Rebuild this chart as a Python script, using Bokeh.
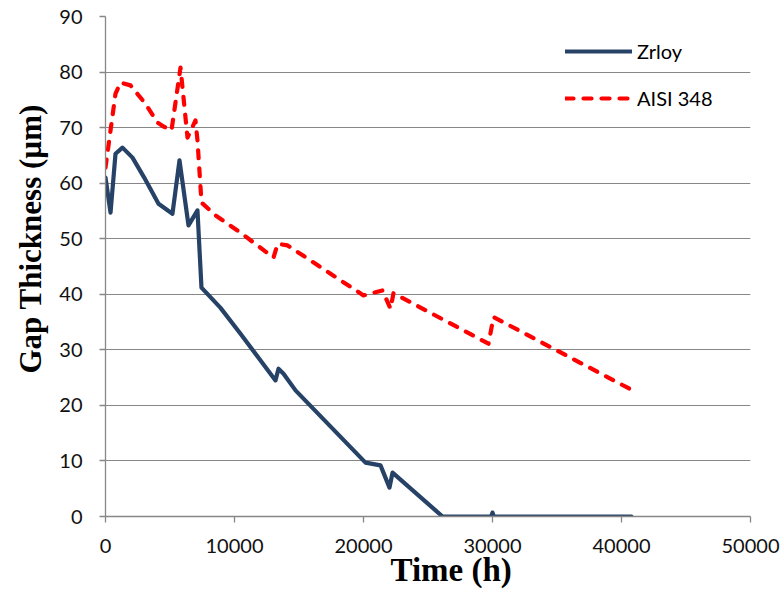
from bokeh.plotting import figure
from bokeh.models import Legend, LegendItem, FixedTicker, Range1d, Title
from bokeh.embed import file_html
from bokeh.resources import INLINE

# Data
zr_time = [0, 390, 775, 1318, 2093, 3000, 4109, 5190, 5736, 6434, 7130, 7440, 8900,
           10465, 13178, 13411, 13800, 14730, 20155, 21318, 22015, 22250, 26124,
           29900, 30000, 30100, 40775]
zr_gap = [61, 54.7, 65.3, 66.4, 64.6, 61.0, 56.3, 54.5, 64.1, 52.4, 55.1, 41.2, 37.6,
          32.9, 24.5, 26.6, 25.7, 22.7, 9.7, 9.2, 5.2, 7.9, 0,
          0, 0.7, 0, 0]

aisi_time = [0, 390, 775, 1163, 1938, 3100, 4030, 4496, 5116, 5814, 5970, 6357, 6977,
             7130, 7442, 8527, 10465, 13023, 13350, 14109, 20000, 21473, 22093, 22325,
             29690, 30078, 40700]
aisi_gap = [62.8, 69.5, 76.1, 78.1, 77.6, 74.3, 70.9, 70.2, 69.5, 80.8, 77.2, 68.2, 71.3,
            67.7, 56.5, 54.2, 51.1, 46.6, 49.1, 48.8, 39.8, 40.7, 37.4, 40.2,
            31.1, 35.9, 22.9]

x_ticks = [0, 10000, 20000, 30000, 40000, 50000]
y_ticks = [0, 10, 20, 30, 40, 50, 60, 70, 80, 90]
x_title = "Time (h)"
y_title = "Gap Thickness (µm)"

GRAY = "#878787"
NAVY = "#264266"
RED = "#FF0000"
TICK_FONT = "Lato"

p = figure(width=782, height=592, output_backend="svg", toolbar_location=None,
           x_range=Range1d(0, 50000), y_range=Range1d(0, 90),
           min_border_left=105, min_border_right=32, min_border_top=16, min_border_bottom=76)
p.outline_line_color = None
p.background_fill_color = "white"

p.xgrid.grid_line_color = None
p.ygrid.grid_line_color = GRAY
p.ygrid.grid_line_width = 1
p.ygrid.ticker = FixedTicker(ticks=y_ticks)

for ax in (p.xaxis[0], p.yaxis[0]):
    ax.axis_line_color = GRAY
    ax.axis_line_width = 1.3
    ax.major_tick_line_color = GRAY
    ax.major_tick_line_width = 1.3
    ax.major_tick_in = 0
    ax.major_tick_out = 6
    ax.minor_tick_line_color = None
    ax.major_label_text_font = TICK_FONT
    ax.major_label_text_font_size = "20px"
    ax.major_label_text_color = "#111111"

p.xaxis[0].ticker = FixedTicker(ticks=x_ticks)
p.yaxis[0].ticker = FixedTicker(ticks=y_ticks)
p.xaxis[0].major_label_overrides = {t: str(t) for t in x_ticks}
p.xaxis[0].major_label_standoff = 16
p.yaxis[0].major_label_standoff = 17

# Axis titles (offset from centre, as in the reference)
title_style = dict(text_font="Liberation Serif", text_font_style="bold",
                   text_color="black", align="left")
p.add_layout(Title(text=x_title, offset=285, standoff=-11, text_font_size="33px",
                   **title_style), "below")
p.add_layout(Title(text=y_title, offset=143, standoff=17, text_font_size="31px",
                   **title_style), "left")

r1 = p.line(zr_time, zr_gap, line_color=NAVY, line_width=4.2, line_join="round", line_cap="round")
r2 = p.line(aisi_time, aisi_gap, line_color=RED, line_width=4.2, line_dash="8 10",
            line_join="round", line_cap="round")

legend = Legend(items=[LegendItem(label="Zrloy", renderers=[r1]),
                       LegendItem(label="AISI 348", renderers=[r2])],
                location=(460, 406), orientation="vertical")
legend.border_line_color = None
legend.background_fill_alpha = 0
legend.label_text_font = TICK_FONT
legend.label_text_font_size = "20px"
legend.label_text_color = "black"
legend.glyph_width = 67
legend.glyph_height = 20
legend.spacing = 23
legend.padding = 0
legend.margin = 0
legend.label_standoff = 5
legend.label_height = 20
p.add_layout(legend, "center")

open("out.html", "w").write(file_html(p, INLINE))
